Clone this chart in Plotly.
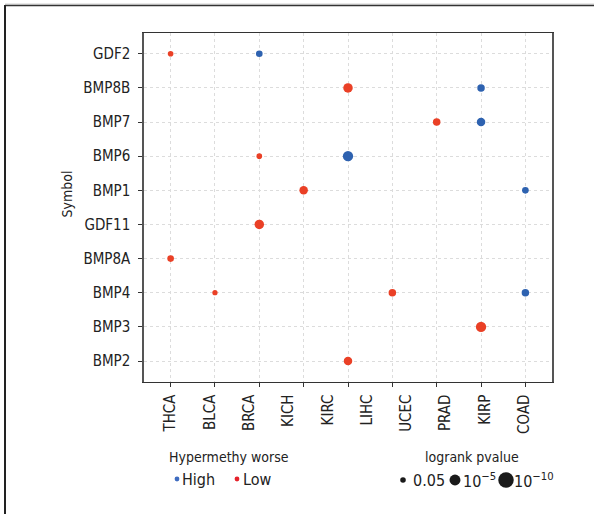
import plotly.graph_objects as go
import numpy as np

# ---- data ----
genes = ["BMP2", "BMP3", "BMP4", "BMP8A", "GDF11", "BMP1", "BMP6", "BMP7", "BMP8B", "GDF2"]
cancers = ["THCA", "BLCA", "BRCA", "KICH", "KIRC", "LIHC", "UCEC", "PRAD", "KIRP", "COAD"]
n_cols = 9  # columns of points in the grid

high_col = [2, 7, 7, 4, 8, 8]
high_gene = ["GDF2", "BMP8B", "BMP7", "BMP6", "BMP1", "BMP4"]
high_logp = [1.84, 2.34, 3.0, 4.44, 1.84, 2.34]

low_col = [0, 4, 6, 2, 3, 2, 0, 1, 5, 7, 4]
low_gene = ["GDF2", "BMP8B", "BMP7", "BMP6", "BMP1", "GDF11", "BMP8A", "BMP4", "BMP4", "BMP3", "BMP2"]
low_logp = [1.33, 3.74, 2.34, 1.33, 3.0, 3.74, 1.84, 1.14, 2.34, 4.44, 3.0]

legend_p_labels = ["0.05", "10<sup>−5</sup>", "10<sup>−10</sup>"]
legend_p_logp = [1.3, 5.0, 10.0]

# ---- style ----
FONT = "Liberation Sans Narrow, DejaVu Sans Condensed, Arial Narrow, sans-serif"
RED = "#EA4026"
BLUE = "#2E62B0"
LEG_RED = "#E5222B"
LEG_BLUE = "#3F6CC0"
SIZEREF = 1 / 12.0
W, H = 594, 514

fig = go.Figure()

def yidx(g):
    return [genes.index(x) for x in g]

fig.add_trace(go.Scatter(x=high_col, y=yidx(high_gene), mode="markers",
                         marker=dict(color=BLUE, size=high_logp, sizemode="area", opacity=1,
                                     sizeref=SIZEREF, line=dict(width=0)),
                         showlegend=False, hoverinfo="skip"))
fig.add_trace(go.Scatter(x=low_col, y=yidx(low_gene), mode="markers",
                         marker=dict(color=RED, size=low_logp, sizemode="area", opacity=1,
                                     sizeref=SIZEREF, line=dict(width=0)),
                         showlegend=False, hoverinfo="skip"))
# dummy trace for the label axis
fig.add_trace(go.Scatter(x=[None], y=[None], xaxis="x2", yaxis="y", showlegend=False))

# ---- pixel-space overlay for legend / frame ----
leg_y = 480
fig.add_trace(go.Scatter(x=[177, 237], y=[479, 479], xaxis="x3", yaxis="y3", mode="markers",
                         marker=dict(color=[LEG_BLUE, LEG_RED], size=4.8, opacity=1, line=dict(width=0)),
                         showlegend=False, hoverinfo="skip", cliponaxis=False))
fig.add_trace(go.Scatter(x=[403, 455, 506], y=[leg_y] * 3, xaxis="x3", yaxis="y3", mode="markers",
                         marker=dict(color="#1a1a1a", size=legend_p_logp, sizemode="area", opacity=1,
                                     sizeref=SIZEREF, line=dict(width=0)),
                         showlegend=False, hoverinfo="skip", cliponaxis=False))

# plot area in pixels
PL, PR, PT, PB = 144, 552, 33.3, 381.5

fig.update_layout(
    width=W, height=H, margin=dict(l=0, r=0, t=0, b=0),
    paper_bgcolor="white", plot_bgcolor="rgba(0,0,0,0)",
    font=dict(family=FONT, size=15, color="#222"),
    xaxis=dict(domain=[PL / W, PR / W], range=[-0.6, n_cols - 1 + 0.6],
               tickvals=list(range(n_cols)), showticklabels=False,
               showgrid=True, gridcolor="#dcdcdc", griddash="dot", gridwidth=1,
               zeroline=False, showline=True, linecolor="#333", linewidth=1, mirror=True,
               ticks="outside", ticklen=4, tickcolor="#333", fixedrange=True),
    xaxis2=dict(overlaying="x", anchor="y", side="bottom",
                range=[-0.6, n_cols - 1 + 0.6],
                tickvals=list(np.linspace(0, 7.97, len(cancers))), ticktext=cancers,
                tickangle=-90, showgrid=False, zeroline=False, showline=False, ticks="",
                ticklabelstandoff=9, tickfont=dict(size=15, color="#222")),
    yaxis=dict(domain=[(H - PB) / H, (H - PT) / H], range=[-0.6, len(genes) - 1 + 0.6],
               tickvals=list(range(len(genes))), ticktext=genes,
               showgrid=True, gridcolor="#dcdcdc", griddash="dot", gridwidth=1,
               zeroline=False, showline=True, linecolor="#555", linewidth=1.5, mirror=True,
               ticks="outside", ticklen=4, tickcolor="#333", ticklabelstandoff=5,
               tickfont=dict(size=15, color="#222"), fixedrange=True),
    xaxis3=dict(domain=[0, 1], range=[0, W], visible=False, fixedrange=True, anchor="y3"),
    yaxis3=dict(domain=[0, 1], range=[H, 0], visible=False, fixedrange=True, anchor="x3"),
    showlegend=False,
)

ann = []
ann.append(dict(x=66.5, y=194, xref="x3", yref="y3", text="Symbol", textangle=-90,
                showarrow=False, font=dict(size=14, color="#222")))
ann.append(dict(x=229, y=457, xref="x3", yref="y3", text="Hypermethy worse",
                showarrow=False, font=dict(size=14, color="#222")))
ann.append(dict(x=472, y=457, xref="x3", yref="y3", text="logrank pvalue",
                showarrow=False, font=dict(size=14, color="#222")))
for xx, t in [(180, "High"), (241, "Low")]:
    ann.append(dict(x=xx, y=479, xref="x3", yref="y3", text=t, xanchor="left",
                    showarrow=False, font=dict(size=16, color="#222")))
for xx, t in zip([410.5, 461, 511.5], legend_p_labels):
    ann.append(dict(x=xx, y=leg_y, xref="x3", yref="y3", text=t, xanchor="left",
                    showarrow=False, font=dict(size=16, color="#222")))
fig.update_layout(annotations=ann)

fig.update_layout(shapes=[
    dict(type="line", xref="x3", yref="y3", x0=5, y0=4, x1=W + 5, y1=4,
         line=dict(color="#d0d0d0", width=1)),
    dict(type="line", xref="x3", yref="y3", x0=5, y0=5.5, x1=W + 5, y1=5.5,
         line=dict(color="#333", width=1.5)),
    dict(type="line", xref="x3", yref="y3", x0=5, y0=5, x1=5, y1=H + 5,
         line=dict(color="#222", width=2)),
])

fig.write_html("out.html")
